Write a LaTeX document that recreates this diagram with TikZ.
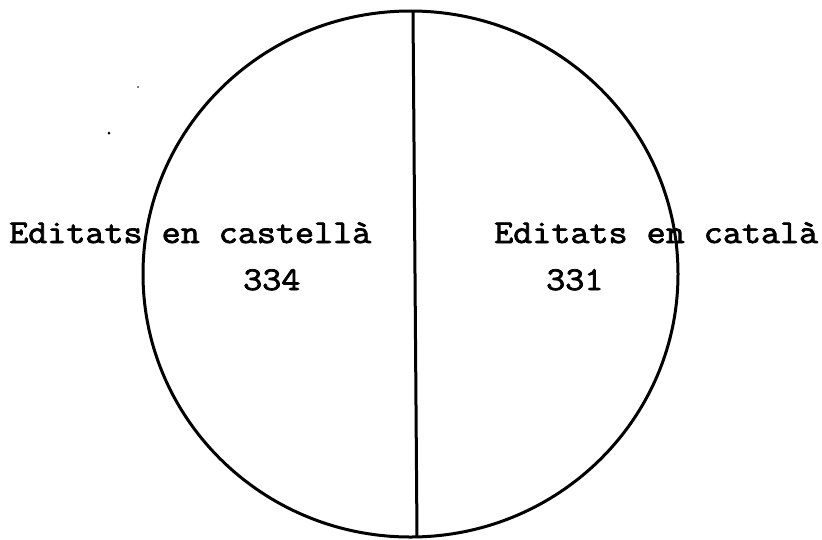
\documentclass[tikz,border=0pt]{standalone}
\usepackage{fontspec}
\newfontfamily\typewfont{Latin Modern Mono}[FakeBold=2.2]
\begin{document}
\begin{tikzpicture}[x=1pt,y=-1pt,
  stroke/.style={line width=3pt,black},
  lbl/.style={inner sep=0pt,anchor=base west,font=\typewfont\fontsize{37}{40}\selectfont}]
\useasboundingbox[fill=white] (0,0) rectangle (822,539);
% circle
\draw[stroke] (410.5,274) ellipse [x radius=267.5, y radius=263];
% dividing line
\coordinate (top) at (413,11);
\coordinate (bot) at (417,537);
\draw[stroke] (top) -- (bot);
% labels
\node[lbl] (castlab) at (9,243) {\scalebox{1}[0.9]{Editats en castellà}};
\node[lbl] (castnum) at (243,290) {\scalebox{1}[0.9]{334}};
\node[lbl] (catlab) at (494,243) {\scalebox{1}[0.9]{Editats en català}};
\node[lbl] (catnum) at (546,290) {\scalebox{1}[0.9]{331}};
% scan specks
\fill (109,133) circle (1.5);
\fill (138,87) circle (0.8);
\end{tikzpicture}
\end{document}
